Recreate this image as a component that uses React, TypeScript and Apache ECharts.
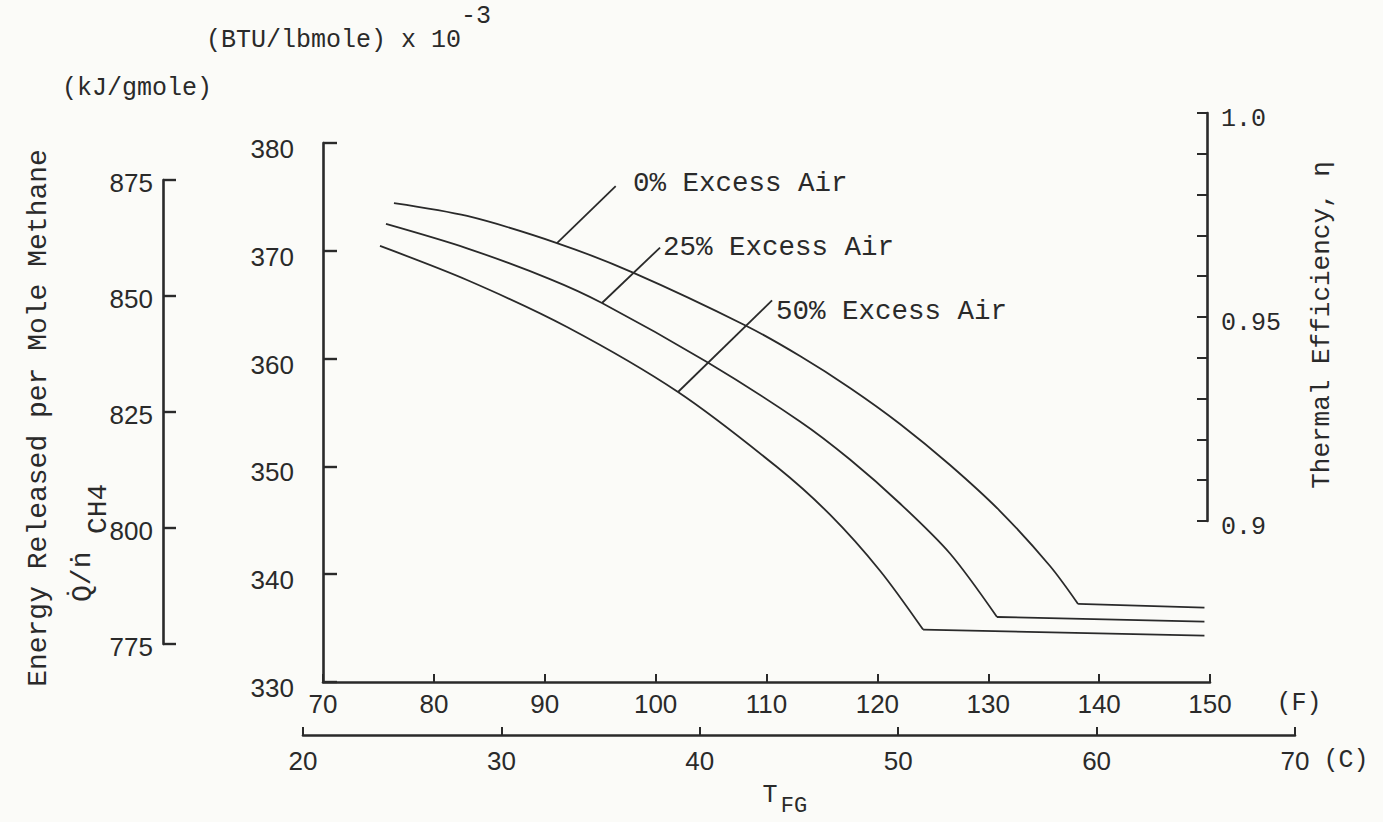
import React, { useEffect, useRef } from "react";
import * as echarts from "echarts";

// ---- data (F, BTU/lbmole x 1e-3) ----
const air0Curve = [[76.4, 374.43], [83.0, 373.23], [91.1, 370.72], [97.96, 367.98], [108.06, 363.1], [113.02, 360.24], [117.53, 357.28], [122.04, 353.94], [126.55, 350.13], [131.06, 345.86], [135.57, 340.76], [138.1, 337.24]];
const air0Flat = [[138.1, 337.24], [149.5, 336.9]];
const air25Curve = [[75.68, 372.49], [82.99, 370.23], [90.47, 367.38], [95.16, 365.16], [104.63, 359.68], [113.02, 354.17], [117.53, 350.64], [122.04, 346.56], [126.55, 341.92], [130.79, 336.03]];
const air25Flat = [[130.79, 336.03], [149.5, 335.6]];
const air50Curve = [[75.14, 370.45], [82.99, 367.29], [92.01, 362.93], [102.02, 356.9], [110.95, 349.94], [115.73, 345.52], [120.24, 340.32], [124.12, 334.86]];
const air50Flat = [[124.12, 334.86], [149.5, 334.3]];
const air0Leader = [[91.1, 370.72], [96.4, 376.0]];
const air25Leader = [[95.16, 365.16], [100.4, 370.3]];
const air50Leader = [[102.02, 356.9], [110.5, 365.4]];

const curveLabels = ["0% Excess Air", "25% Excess Air", "50% Excess Air"];
const fRange = [70, 150];
const cRange = [20, 70];
const btuRange = [330, 380];
const kjRange = [775, 875];
const etaRange = [0.9, 1.0];

const ink = "#2a2a2a";
const bg = "#fbfbf8";
const mono = '"Liberation Mono", "DejaVu Sans Mono", monospace';
const sans = '"Liberation Sans", Arial, sans-serif';

export default function App() {
  const ref = useRef<HTMLDivElement>(null);
  useEffect(() => {
    document.body.style.margin = "0";
    const chart = echarts.init(ref.current!, undefined, { renderer: "svg" });
    const axisLine = { show: true, onZero: false, lineStyle: { color: ink, width: 2.6 } };
    const numLabel = { color: ink, fontFamily: sans, fontSize: 26 };
    const lineSeries = (data: number[][], smooth: number | boolean) => ({
      type: "line",
      xAxisIndex: 0,
      yAxisIndex: 0,
      data,
      smooth,
      showSymbol: false,
      symbol: "none",
      silent: true,
      lineStyle: { color: ink, width: 1.8 },
      emphasis: { disabled: true },
    });
    const txt = (text: string, x: number, y: number, size: number, opts: any = {}) => ({
      type: "text",
      x,
      y,
      rotation: opts.rotation || 0,
      silent: true,
      style: {
        text,
        fill: ink,
        fontSize: size,
        fontFamily: opts.font || mono,
        textAlign: opts.align || "left",
        align: opts.align || "left",
        textVerticalAlign: "middle",
        verticalAlign: "middle",
      },
    });
    chart.setOption({
      animation: false,
      backgroundColor: bg,
      grid: [
        { left: 323, top: 143, width: 887, height: 539, containLabel: false, outerBoundsMode: "none" },
        { left: 163, top: 180, width: 10, height: 464, containLabel: false, outerBoundsMode: "none" },
        { left: 1197, top: 113, width: 10, height: 408, containLabel: false, outerBoundsMode: "none" },
        { left: 303, top: 700, width: 992, height: 35, containLabel: false, outerBoundsMode: "none" },
      ],
      xAxis: [
        {
          gridIndex: 0, type: "value", min: fRange[0], max: fRange[1], interval: 10,
          axisLine, axisTick: { inside: true, length: 8, lineStyle: { color: ink, width: 2 } },
          axisLabel: { ...numLabel, margin: 9 }, splitLine: { show: false },
        },
        { gridIndex: 1, type: "value", show: false, min: 0, max: 1 },
        { gridIndex: 2, type: "value", show: false, min: 0, max: 1 },
        {
          gridIndex: 3, type: "value", min: cRange[0], max: cRange[1], interval: 10,
          axisLine, axisTick: { inside: true, length: 8, lineStyle: { color: ink, width: 2 } },
          axisLabel: { ...numLabel, margin: 13 }, splitLine: { show: false },
        },
      ],
      yAxis: [
        {
          gridIndex: 0, type: "value", min: btuRange[0], max: btuRange[1], interval: 10,
          axisLine, axisTick: { inside: true, length: 14, lineStyle: { color: ink, width: 2.4 } },
          axisLabel: { ...numLabel, margin: 29, verticalAlign: "top", lineHeight: 12 }, splitLine: { show: false },
        },
        {
          gridIndex: 1, type: "value", position: "left", min: kjRange[0], max: kjRange[1], interval: 25,
          axisLine, axisTick: { inside: true, length: 13, lineStyle: { color: ink, width: 2.4 } },
          axisLabel: { ...numLabel, margin: 10, verticalAlign: "top", lineHeight: 6 }, splitLine: { show: false },
        },
        {
          gridIndex: 2, type: "value", position: "right", min: etaRange[0], max: etaRange[1], interval: 0.01,
          axisLine, axisTick: { inside: true, length: 10, lineStyle: { color: ink, width: 2 } },
          axisLabel: {
            color: ink, fontFamily: mono, fontSize: 25, margin: 14, showMinLabel: true, showMaxLabel: true,
            verticalAlign: "top", lineHeight: 12,
            formatter: (v: number) => {
              const r = Math.round(v * 100);
              return r === 100 ? "1.0" : r === 95 ? "0.95" : r === 90 ? "0.9" : "";
            },
          },
          splitLine: { show: false },
        },
        { gridIndex: 3, type: "value", show: false, min: 0, max: 1 },
      ],
      series: [
        lineSeries(air0Curve, 0.3),
        lineSeries(air0Flat, false),
        lineSeries(air25Curve, 0.3),
        lineSeries(air25Flat, false),
        lineSeries(air50Curve, 0.3),
        lineSeries(air50Flat, false),
        lineSeries(air0Leader, false),
        lineSeries(air25Leader, false),
        lineSeries(air50Leader, false),
      ],
      graphic: [
        txt("(BTU/lbmole) x 10", 206, 40, 25),
        txt("-3", 461, 16, 25),
        txt("(kJ/gmole)", 62, 88, 25),
        txt("Energy Released per Mole Methane", 38, 418, 28, { rotation: Math.PI / 2, align: "center" }),
        txt("Q\u0307/\u1E45", 82, 602, 28, { rotation: Math.PI / 2 }),
        txt("CH4", 98, 534, 28, { rotation: Math.PI / 2 }),
        txt("Thermal Efficiency, \u03B7", 1322, 325, 26, { rotation: Math.PI / 2, align: "center" }),
        txt(curveLabels[0], 633, 183, 27.5),
        txt(curveLabels[1], 663, 247, 27.5),
        txt(curveLabels[2], 776, 311, 27.5),
        txt("(F)", 1299, 703, 25, { align: "center" }),
        txt("(C)", 1346, 760, 25, { align: "center" }),
        txt("T", 770, 795, 25, { align: "center" }),
        txt("FG", 794, 806, 22, { align: "center" }),
      ],
    });
    return () => chart.dispose();
  }, []);
  return <div ref={ref} style={{ position: "fixed", left: 0, top: 0, width: 1383, height: 822 }} />;
}
